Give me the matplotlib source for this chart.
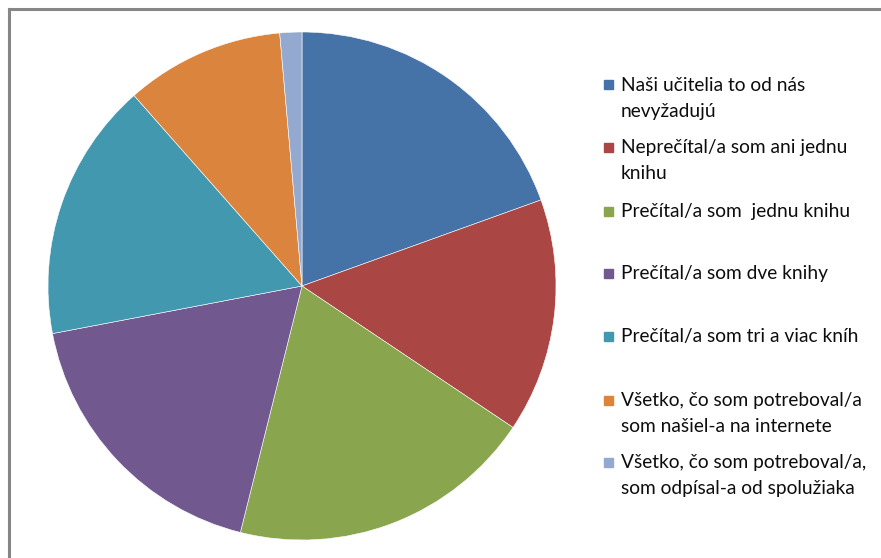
import matplotlib
matplotlib.use("Agg")
import matplotlib.pyplot as plt
from matplotlib.patches import Rectangle
from matplotlib.lines import Line2D

labels = [
    "Naši učitelia to od nás\nnevyžadujú",
    "Neprečítal/a som ani jednu\nknihu",
    "Prečítal/a som  jednu knihu",
    "Prečítal/a som dve knihy",
    "Prečítal/a som tri a viac kníh",
    "Všetko, čo som potreboval/a\nsom našiel-a na internete",
    "Všetko, čo som potreboval/a,\nsom odpísal-a od spolužiaka",
]
shares = [19.5, 14.9, 19.5, 18.1, 16.5, 10.1, 1.4]
colors = ["#4572A7", "#AA4643", "#89A54E", "#71588F", "#4198AF", "#DB843D", "#93A9CF"]
legend_y = [85, 147, 211, 273, 336, 400, 462]  # first-line centres, px from top

W, H = 881, 558
fig = plt.figure(figsize=(W / 100, H / 100), dpi=100)
plt.rcParams["font.family"] = ["Lato", "DejaVu Sans"]

# outer frame (top and left visible, runs off the right/bottom edges)
fig.add_artist(Line2D([8.5 / W, 1], [1 - 8.5 / H] * 2, color="#868686", lw=2.2))
fig.add_artist(Line2D([8.5 / W] * 2, [0, 1 - 8.5 / H], color="#868686", lw=2.2))

cx, cy, r = 302, 286, 254
ax = fig.add_axes([(cx - r) / W, (H - cy - r) / H, 2 * r / W, 2 * r / H])
ax.pie(shares, colors=colors, startangle=90, counterclock=False,
       wedgeprops=dict(edgecolor="white", linewidth=0.4))
ax.set_xlim(-1, 1)
ax.set_ylim(-1, 1)
ax.set_aspect("equal")
ax.axis("off")

for lab, col, y in zip(labels, colors, legend_y):
    fig.add_artist(Rectangle(((604) / W, 1 - (y + 4.5) / H), 9 / W, 9 / H,
                             transform=fig.transFigure, color=col))
    fig.text(621 / W, 1 - (y - 8) / H, lab, fontsize=13.8, va="top", ha="left",
             linespacing=1.62, color="#0d0d0d")

fig.savefig("out.png", dpi=100)
